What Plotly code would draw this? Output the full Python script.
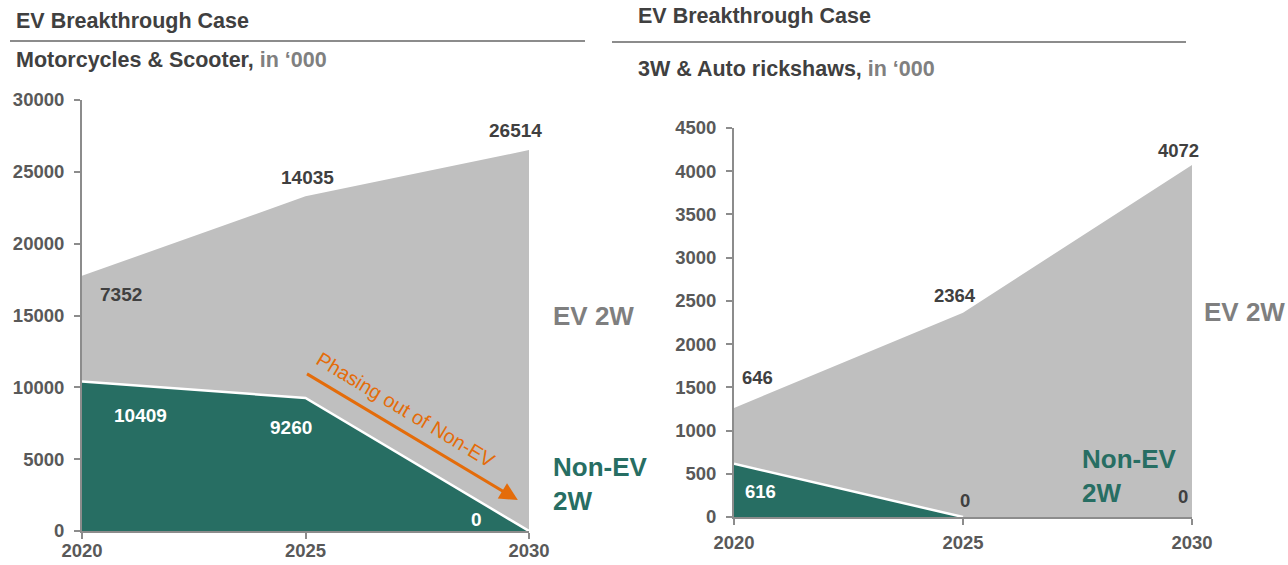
import plotly.graph_objects as go

years = [2020, 2025, 2030]
moto_non_ev = [10409, 9260, 0]
moto_ev = [7352, 14035, 26514]
rick_non_ev = [616, 0, 0]
rick_ev = [646, 2364, 4072]
y_ticks_left = [0, 5000, 10000, 15000, 20000, 25000, 30000]
y_ticks_right = [0, 500, 1000, 1500, 2000, 2500, 3000, 3500, 4000, 4500]

GREEN = "#276E63"
GRAY_AREA = "#BFBFBF"
TXT = "#404040"
TICK = "#595959"
AXIS = "#8C8C8C"
ORANGE = "#E46C0A"
FONT = "Liberation Sans, Arial, sans-serif"

fig = go.Figure()


def boundary(xs, ys):
    """Keep only the segments of the boundary line that are above zero."""
    keep = [i for i in range(len(ys))
            if ys[i] > 0 or (i > 0 and ys[i - 1] > 0) or (i + 1 < len(ys) and ys[i + 1] > 0)]
    return [xs[i] for i in keep], [ys[i] for i in keep]


# Left chart
fig.add_trace(go.Scatter(x=years, y=moto_non_ev, stackgroup="a", mode="lines",
                         line=dict(color=GREEN, width=0), fillcolor=GREEN,
                         xaxis="x", yaxis="y", hoverinfo="skip"))
fig.add_trace(go.Scatter(x=years, y=moto_ev, stackgroup="a", mode="lines",
                         line=dict(color=GRAY_AREA, width=0), fillcolor=GRAY_AREA,
                         xaxis="x", yaxis="y", hoverinfo="skip"))
bx, by = boundary(years, moto_non_ev)
fig.add_trace(go.Scatter(x=bx, y=by, mode="lines", line=dict(color="white", width=2.5),
                         xaxis="x", yaxis="y", hoverinfo="skip"))
# Right chart
fig.add_trace(go.Scatter(x=years, y=rick_non_ev, stackgroup="b", mode="lines",
                         line=dict(color=GREEN, width=0), fillcolor=GREEN,
                         xaxis="x2", yaxis="y2", hoverinfo="skip"))
fig.add_trace(go.Scatter(x=years, y=rick_ev, stackgroup="b", mode="lines",
                         line=dict(color=GRAY_AREA, width=0), fillcolor=GRAY_AREA,
                         xaxis="x2", yaxis="y2", hoverinfo="skip"))
bx, by = boundary(years, rick_non_ev)
fig.add_trace(go.Scatter(x=bx, y=by, mode="lines", line=dict(color="white", width=2.5),
                         xaxis="x2", yaxis="y2", hoverinfo="skip"))

axis_common = dict(showgrid=False, zeroline=False, showline=True, linecolor=AXIS,
                   linewidth=2, ticks="outside", tickcolor=AXIS, tickwidth=2, ticklen=6,
                   layer="above traces", automargin=False)

annotations = []

def lab(text, x, y, xref, yref, xs, ys, color, size):
    annotations.append(dict(text=f"<b>{text}</b>", x=x, y=y, xref=xref, yref=yref,
                            xshift=xs, yshift=ys, showarrow=False,
                            font=dict(family=FONT, size=size, color=color)))

# Left labels
mt = [a + b for a, b in zip(moto_non_ev, moto_ev)]
ev_shift_l = [(39, -19), (2, 19), (-14, 20)]
nev_shift_l = [(58, -34), (-15, -30), (-53, 12)]
for i, yr in enumerate(years):
    lab(str(moto_ev[i]), yr, mt[i], "x", "y", *ev_shift_l[i], TXT, 19)
    lab(str(moto_non_ev[i]), yr, moto_non_ev[i], "x", "y", *nev_shift_l[i], "white", 19)

# Right labels
rt = [a + b for a, b in zip(rick_non_ev, rick_ev)]
ev_shift_r = [(23, 30), (-8, 17), (-14, 15)]
nev_shift_r = [(26, -28), (2, 17), (-9, 21)]
nev_col_r = ["white", TXT, TXT]
for i, yr in enumerate(years):
    lab(str(rick_ev[i]), yr, rt[i], "x2", "y2", *ev_shift_r[i], TXT, 18.5)
    lab(str(rick_non_ev[i]), yr, rick_non_ev[i], "x2", "y2", *nev_shift_r[i], nev_col_r[i], 18.5)

def ptxt(text, x, y, size, color, xanchor="left", align="left"):
    annotations.append(dict(text=text, x=x, y=y, xref="paper", yref="paper",
                            xanchor=xanchor, yanchor="middle", align=align, showarrow=False,
                            font=dict(family=FONT, size=size, color=color)))

ptxt("<b>EV Breakthrough Case</b>", 14 / 1288, (565 - 21) / 565, 21.5, TXT)
ptxt("<b>Motorcycles &amp; Scooter, </b><b><span style='color:#808080'>in ‘000</span></b>",
     14 / 1288, (565 - 60) / 565, 21.5, TXT)
ptxt("<b>EV Breakthrough Case</b>", 636 / 1288, (565 - 16) / 565, 21.5, TXT)
ptxt("<b>3W &amp; Auto rickshaws, </b><b><span style='color:#808080'>in ‘000</span></b>",
     636 / 1288, (565 - 69) / 565, 21.5, TXT)

ptxt("<b>EV 2W</b>", 551 / 1288, (565 - 316) / 565, 26, "#7F7F7F")
ptxt("<b>Non-EV<br>2W</b>", 551 / 1288, (565 - 484) / 565, 26, GREEN)
ptxt("<b>EV 2W</b>", 1202 / 1288, (565 - 312) / 565, 26, "#7F7F7F")
ptxt("<b>Non-EV<br>2W</b>", 1080 / 1288, (565 - 476) / 565, 26, GREEN)

# Orange arrow
annotations.append(dict(x=2029.75, y=2150, ax=2025.0, ay=11000, xref="x", yref="y",
                        axref="x", ayref="y", showarrow=True, arrowhead=2, arrowsize=1.2,
                        arrowwidth=3, arrowcolor=ORANGE, text=""))
annotations.append(dict(x=2027.25, y=8450, xref="x", yref="y", showarrow=False,
                        textangle=31, text="Phasing out of Non-EV",
                        font=dict(family=FONT, size=20, color=ORANGE)))

shapes = [
    dict(type="line", xref="paper", yref="paper", x0=10 / 1288, x1=585 / 1288,
         y0=(565 - 41) / 565, y1=(565 - 41) / 565, line=dict(color="#8C8C8C", width=2)),
    dict(type="line", xref="paper", yref="paper", x0=612 / 1288, x1=1186 / 1288,
         y0=(565 - 42) / 565, y1=(565 - 42) / 565, line=dict(color="#8C8C8C", width=2)),
]

tf = dict(size=18.5, color=TICK, family=FONT, weight="bold")

fig.update_layout(
    width=1288, height=565,
    margin=dict(l=0, r=0, t=0, b=0, autoexpand=False),
    paper_bgcolor="white", plot_bgcolor="white",
    showlegend=False,
    font=dict(family=FONT, color=TICK),
    xaxis=dict(domain=[82 / 1288, 529 / 1288], range=[2020, 2030], tickvals=years,
               tickfont=tf, anchor="y", tickformat="d", ticklabelstandoff=-4, **axis_common),
    yaxis=dict(domain=[(565 - 531) / 565, (565 - 100) / 565], range=[0, 30000],
               tickvals=y_ticks_left, tickfont=tf, anchor="x", tickformat="d",
               ticklabelstandoff=6, **axis_common),
    xaxis2=dict(domain=[734 / 1288, 1192 / 1288], range=[2020, 2030], tickvals=years,
                tickfont=tf, anchor="y2", tickformat="d", ticklabelstandoff=2, **axis_common),
    yaxis2=dict(domain=[(565 - 517) / 565, (565 - 128) / 565], range=[0, 4500],
                tickvals=y_ticks_right, tickfont=tf, anchor="x2", tickformat="d",
                ticklabelstandoff=6, **axis_common),
    annotations=annotations,
    shapes=shapes,
)

fig.write_html("out.html", config={"displayModeBar": False},
               post_script="document.body.style.margin='0';document.documentElement.style.overflow='hidden';")
